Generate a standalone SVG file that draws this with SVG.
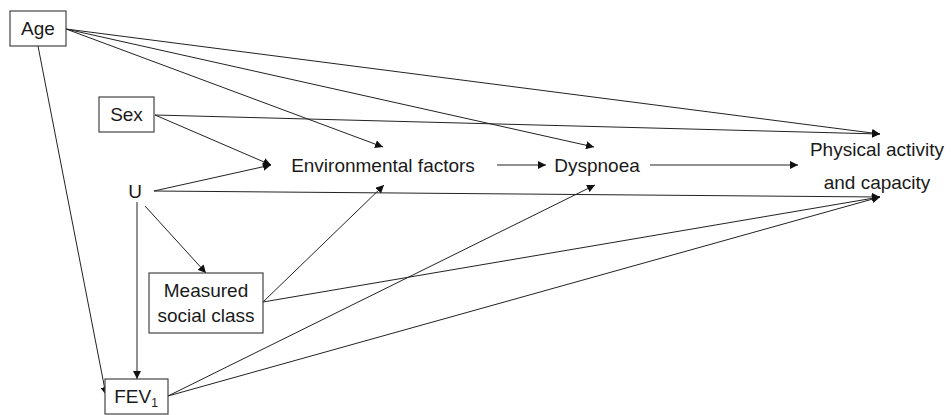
<svg xmlns="http://www.w3.org/2000/svg" width="951" height="415" viewBox="0 0 951 415">
<style>
.box{fill:#fff;stroke:#444;stroke-width:1.2}
.t{font-family:"Liberation Sans",Arial,sans-serif;font-size:19px;fill:#1a1a1a;text-anchor:middle}
.e{stroke:#222;stroke-width:1;fill:none;marker-end:url(#ah)}
</style>
<defs>
<marker id="ah" viewBox="0 0 10 10" refX="10" refY="5" markerWidth="8" markerHeight="8" markerUnits="userSpaceOnUse" orient="auto">
<path d="M0,0 L10,5 L0,10 z" fill="#111"/>
</marker>
</defs>
<rect width="951" height="415" fill="#fff"/>
<g id="connectors">
<line class="e" x1="66" y1="29" x2="880" y2="134"/>
<line class="e" x1="66" y1="29" x2="383" y2="147"/>
<line class="e" x1="66" y1="29" x2="594" y2="147"/>
<line class="e" x1="38" y1="46" x2="106" y2="395"/>
<line class="e" x1="155" y1="115" x2="880" y2="134"/>
<line class="e" x1="155" y1="115" x2="271" y2="165"/>
<line class="e" x1="154" y1="191" x2="271" y2="165"/>
<line class="e" x1="154" y1="191" x2="880" y2="197"/>
<line class="e" x1="137" y1="202" x2="137" y2="379"/>
<line class="e" x1="145" y1="206" x2="206" y2="273"/>
<line class="e" x1="497" y1="165" x2="546" y2="165"/>
<line class="e" x1="650" y1="165" x2="798" y2="165"/>
<line class="e" x1="263" y1="302" x2="384" y2="185"/>
<line class="e" x1="263" y1="302" x2="880" y2="197"/>
<line class="e" x1="168" y1="396" x2="595" y2="185"/>
<line class="e" x1="168" y1="396" x2="880" y2="197"/>
</g>
<g id="age"><rect class="box" x="10" y="11" width="56" height="35"/><text class="t" x="38" y="35">Age</text></g>
<g id="sex"><rect class="box" x="99" y="97" width="55" height="35"/><text class="t" x="126.5" y="121">Sex</text></g>
<g id="u"><text class="t" x="135" y="198">U</text></g>
<g id="env"><text class="t" x="383" y="172">Environmental factors</text></g>
<g id="dysp"><text class="t" x="597" y="172">Dyspnoea</text></g>
<g id="phys"><text class="t" x="877" y="156">Physical activity</text><text class="t" x="877" y="189">and capacity</text></g>
<g id="social"><rect class="box" x="149" y="273" width="114" height="60"/><text class="t" x="206" y="297">Measured</text><text class="t" x="206" y="322">social class</text></g>
<g id="fev"><rect class="box" x="105" y="379" width="63" height="35"/><text class="t" x="136" y="403">FEV<tspan font-size="12" dy="4">1</tspan></text></g>
</svg>
